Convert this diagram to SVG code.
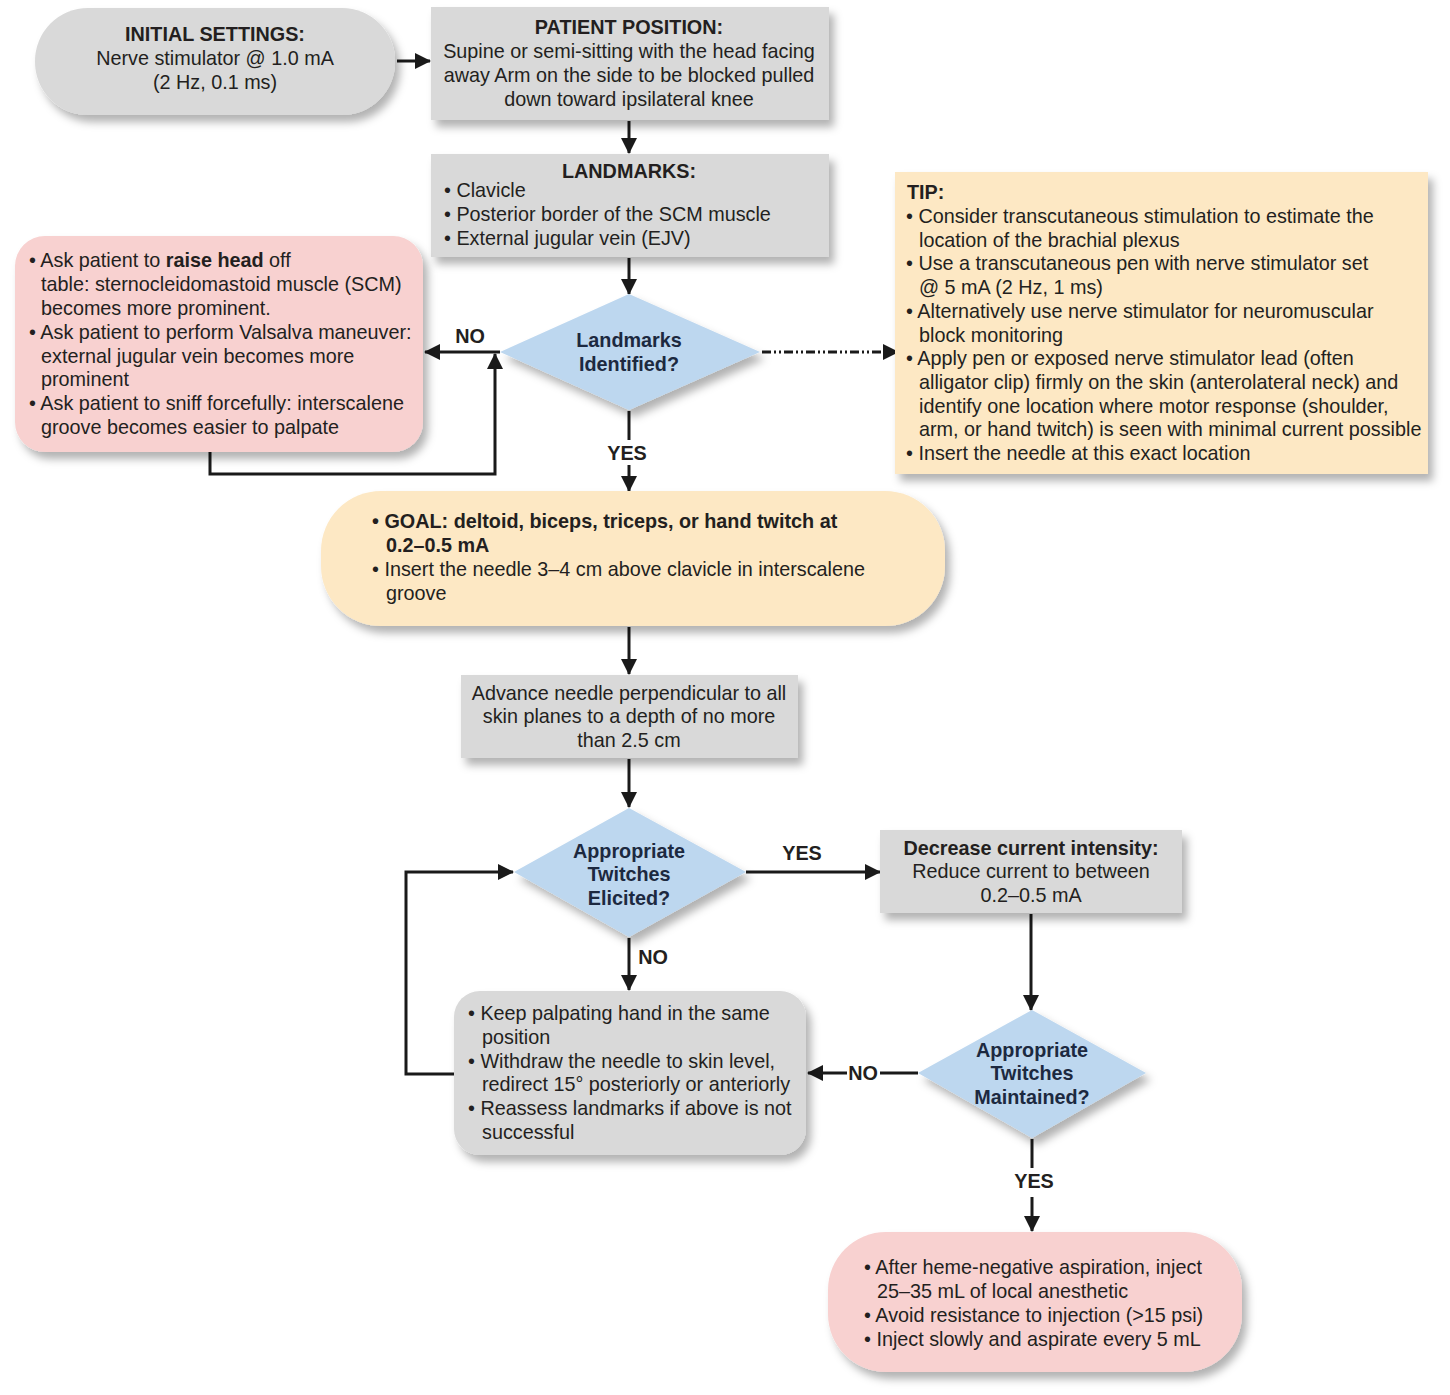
<svg xmlns="http://www.w3.org/2000/svg" width="1450" height="1395" viewBox="0 0 1450 1395">
<defs>
<filter id="sh" x="-10%" y="-10%" width="130%" height="140%">
<feDropShadow dx="5" dy="7" stdDeviation="4" flood-color="#000" flood-opacity="0.3"/>
</filter>
<marker id="ah" viewBox="0 0 16 16" refX="15" refY="8" markerWidth="16" markerHeight="16" markerUnits="userSpaceOnUse" orient="auto">
<path d="M0,0 L16,8 L0,16 Z" fill="#1a1a1a"/>
</marker>
<style>
text{font-family:"Liberation Sans",Arial,sans-serif;font-size:19.8px;fill:#231f20}
.b{font-weight:bold}
.c{text-anchor:middle}
.q{font-weight:bold;fill:#1c2940}
.gray{fill:#d9d9d9;filter:url(#sh)}
.pink{fill:#f8d1d0;filter:url(#sh)}
.cream{fill:#fde8c4;filter:url(#sh)}
.dia{fill:#bdd7ef;filter:url(#sh)}
.ln{fill:none;stroke:#1a1a1a;stroke-width:3}
.ar{fill:none;stroke:#1a1a1a;stroke-width:3;marker-end:url(#ah)}
.lbl{font-weight:bold;text-anchor:middle}
</style>
</defs>
<rect width="1450" height="1395" fill="#ffffff"/>

<g id="connectors">
<line class="ar" x1="397" y1="61" x2="430" y2="61"/>
<line class="ar" x1="629" y1="121" x2="629" y2="153"/>
<line class="ar" x1="629" y1="258" x2="629" y2="294"/>
<line class="ar" x1="500" y1="352" x2="425" y2="352"/>
<polyline class="ar" points="210,452 210,474 495,474 495,354"/>
<line class="ar" x1="762" y1="352" x2="898" y2="352" stroke-dasharray="9,3,2,3,2,3"/>
<line class="ln" x1="629" y1="411" x2="629" y2="440"/>
<line class="ar" x1="629" y1="465" x2="629" y2="491"/>
<line class="ar" x1="629" y1="627" x2="629" y2="674"/>
<line class="ar" x1="629" y1="759" x2="629" y2="807"/>
<line class="ar" x1="746" y1="872" x2="880" y2="872"/>
<line class="ar" x1="629" y1="938" x2="629" y2="990"/>
<polyline class="ar" points="454,1074 406,1074 406,872 513,872"/>
<line class="ar" x1="1031" y1="914" x2="1031" y2="1010"/>
<line class="ln" x1="918" y1="1073" x2="880" y2="1073"/>
<line class="ar" x1="847" y1="1073" x2="808" y2="1073"/>
<line class="ln" x1="1032" y1="1139" x2="1032" y2="1168"/>
<line class="ar" x1="1032" y1="1197" x2="1032" y2="1231"/>
<text class="lbl" x="470" y="343">NO</text>
<text class="lbl" x="627" y="460">YES</text>
<text class="lbl" x="802" y="860">YES</text>
<text class="lbl" x="653" y="964">NO</text>
<text class="lbl" x="863" y="1080">NO</text>
<text class="lbl" x="1034" y="1188">YES</text>
</g>

<g id="initial">
<rect class="gray" x="35" y="8" width="360" height="107" rx="53" ry="53"/>
<text class="b c" x="215" y="41">INITIAL SETTINGS:</text>
<text class="c" x="215" y="65">Nerve stimulator @ 1.0 mA</text>
<text class="c" x="215" y="89">(2 Hz, 0.1 ms)</text>
</g>

<g id="patient">
<rect class="gray" x="431" y="7" width="398" height="113"/>
<text class="b c" x="629" y="34">PATIENT POSITION:</text>
<text class="c" x="629" y="58">Supine or semi-sitting with the head facing</text>
<text class="c" x="629" y="82">away Arm on the side to be blocked pulled</text>
<text class="c" x="629" y="106">down toward ipsilateral knee</text>
</g>

<g id="landmarks">
<rect class="gray" x="431" y="154" width="398" height="103"/>
<text class="b c" x="629" y="178">LANDMARKS:</text>
<text x="444" y="197">• Clavicle</text>
<text x="444" y="221">• Posterior border of the SCM muscle</text>
<text x="444" y="245">• External jugular vein (EJV)</text>
</g>

<g id="landmarks-identified">
<polygon class="dia" points="629,294 760,352 629,410 500,352"/>
<text class="q c" x="629" y="347">Landmarks</text>
<text class="q c" x="629" y="371">Identified?</text>
</g>

<g id="maneuvers">
<rect class="pink" x="15" y="236" width="408" height="216" rx="30" ry="30"/>
<text x="29" y="267">• Ask patient to <tspan class="b">raise head</tspan> off</text>
<text x="41" y="291">table: sternocleidomastoid muscle (SCM)</text>
<text x="41" y="315">becomes more prominent.</text>
<text x="29" y="339">• Ask patient to perform Valsalva maneuver:</text>
<text x="41" y="363">external jugular vein becomes more</text>
<text x="41" y="386">prominent</text>
<text x="29" y="410">• Ask patient to sniff forcefully: interscalene</text>
<text x="41" y="434">groove becomes easier to palpate</text>
</g>

<g id="tip">
<rect class="cream" x="895" y="172" width="533" height="302"/>
<text class="b" x="907" y="199">TIP:</text>
<text x="906" y="223">• Consider transcutaneous stimulation to estimate the</text>
<text x="919" y="247">location of the brachial plexus</text>
<text x="906" y="270">• Use a transcutaneous pen with nerve stimulator set</text>
<text x="919" y="294">@ 5 mA (2 Hz, 1 ms)</text>
<text x="906" y="318">• Alternatively use nerve stimulator for neuromuscular</text>
<text x="919" y="342">block monitoring</text>
<text x="906" y="365">• Apply pen or exposed nerve stimulator lead (often</text>
<text x="919" y="389">alligator clip) firmly on the skin (anterolateral neck) and</text>
<text x="919" y="413">identify one location where motor response (shoulder,</text>
<text x="919" y="436">arm, or hand twitch) is seen with minimal current possible</text>
<text x="906" y="460">• Insert the needle at this exact location</text>
</g>

<g id="goal">
<rect class="cream" x="321" y="491" width="624" height="135" rx="60" ry="60"/>
<text class="b" x="372" y="528">• GOAL: deltoid, biceps, triceps, or hand twitch at</text>
<text class="b" x="386" y="552">0.2–0.5 mA</text>
<text x="372" y="576">• Insert the needle 3–4 cm above clavicle in interscalene</text>
<text x="386" y="600">groove</text>
</g>

<g id="advance">
<rect class="gray" x="461" y="675" width="337" height="83"/>
<text class="c" x="629" y="700">Advance needle perpendicular to all</text>
<text class="c" x="629" y="723">skin planes to a depth of no more</text>
<text class="c" x="629" y="747">than 2.5 cm</text>
</g>

<g id="twitches-elicited">
<polygon class="dia" points="629,808 746,872 629,937 514,872"/>
<text class="q c" x="629" y="858">Appropriate</text>
<text class="q c" x="629" y="881">Twitches</text>
<text class="q c" x="629" y="905">Elicited?</text>
</g>

<g id="decrease">
<rect class="gray" x="880" y="830" width="302" height="83"/>
<text class="b c" x="1031" y="855">Decrease current intensity:</text>
<text class="c" x="1031" y="878">Reduce current to between</text>
<text class="c" x="1031" y="902">0.2–0.5 mA</text>
</g>

<g id="redirect">
<rect class="gray" x="454" y="991" width="352" height="164" rx="26" ry="26"/>
<text x="468" y="1020">• Keep palpating hand in the same</text>
<text x="482" y="1044">position</text>
<text x="468" y="1068">• Withdraw the needle to skin level,</text>
<text x="482" y="1091">redirect 15° posteriorly or anteriorly</text>
<text x="468" y="1115">• Reassess landmarks if above is not</text>
<text x="482" y="1139">successful</text>
</g>

<g id="twitches-maintained">
<polygon class="dia" points="1032,1010 1146,1073 1032,1138 918,1073"/>
<text class="q c" x="1032" y="1057">Appropriate</text>
<text class="q c" x="1032" y="1080">Twitches</text>
<text class="q c" x="1032" y="1104">Maintained?</text>
</g>

<g id="inject">
<rect class="pink" x="828" y="1232" width="414" height="140" rx="58" ry="58"/>
<text x="864" y="1274">• After heme-negative aspiration, inject</text>
<text x="877" y="1298">25–35 mL of local anesthetic</text>
<text x="864" y="1322">• Avoid resistance to injection (&gt;15 psi)</text>
<text x="864" y="1346">• Inject slowly and aspirate every 5 mL</text>
</g>
</svg>
